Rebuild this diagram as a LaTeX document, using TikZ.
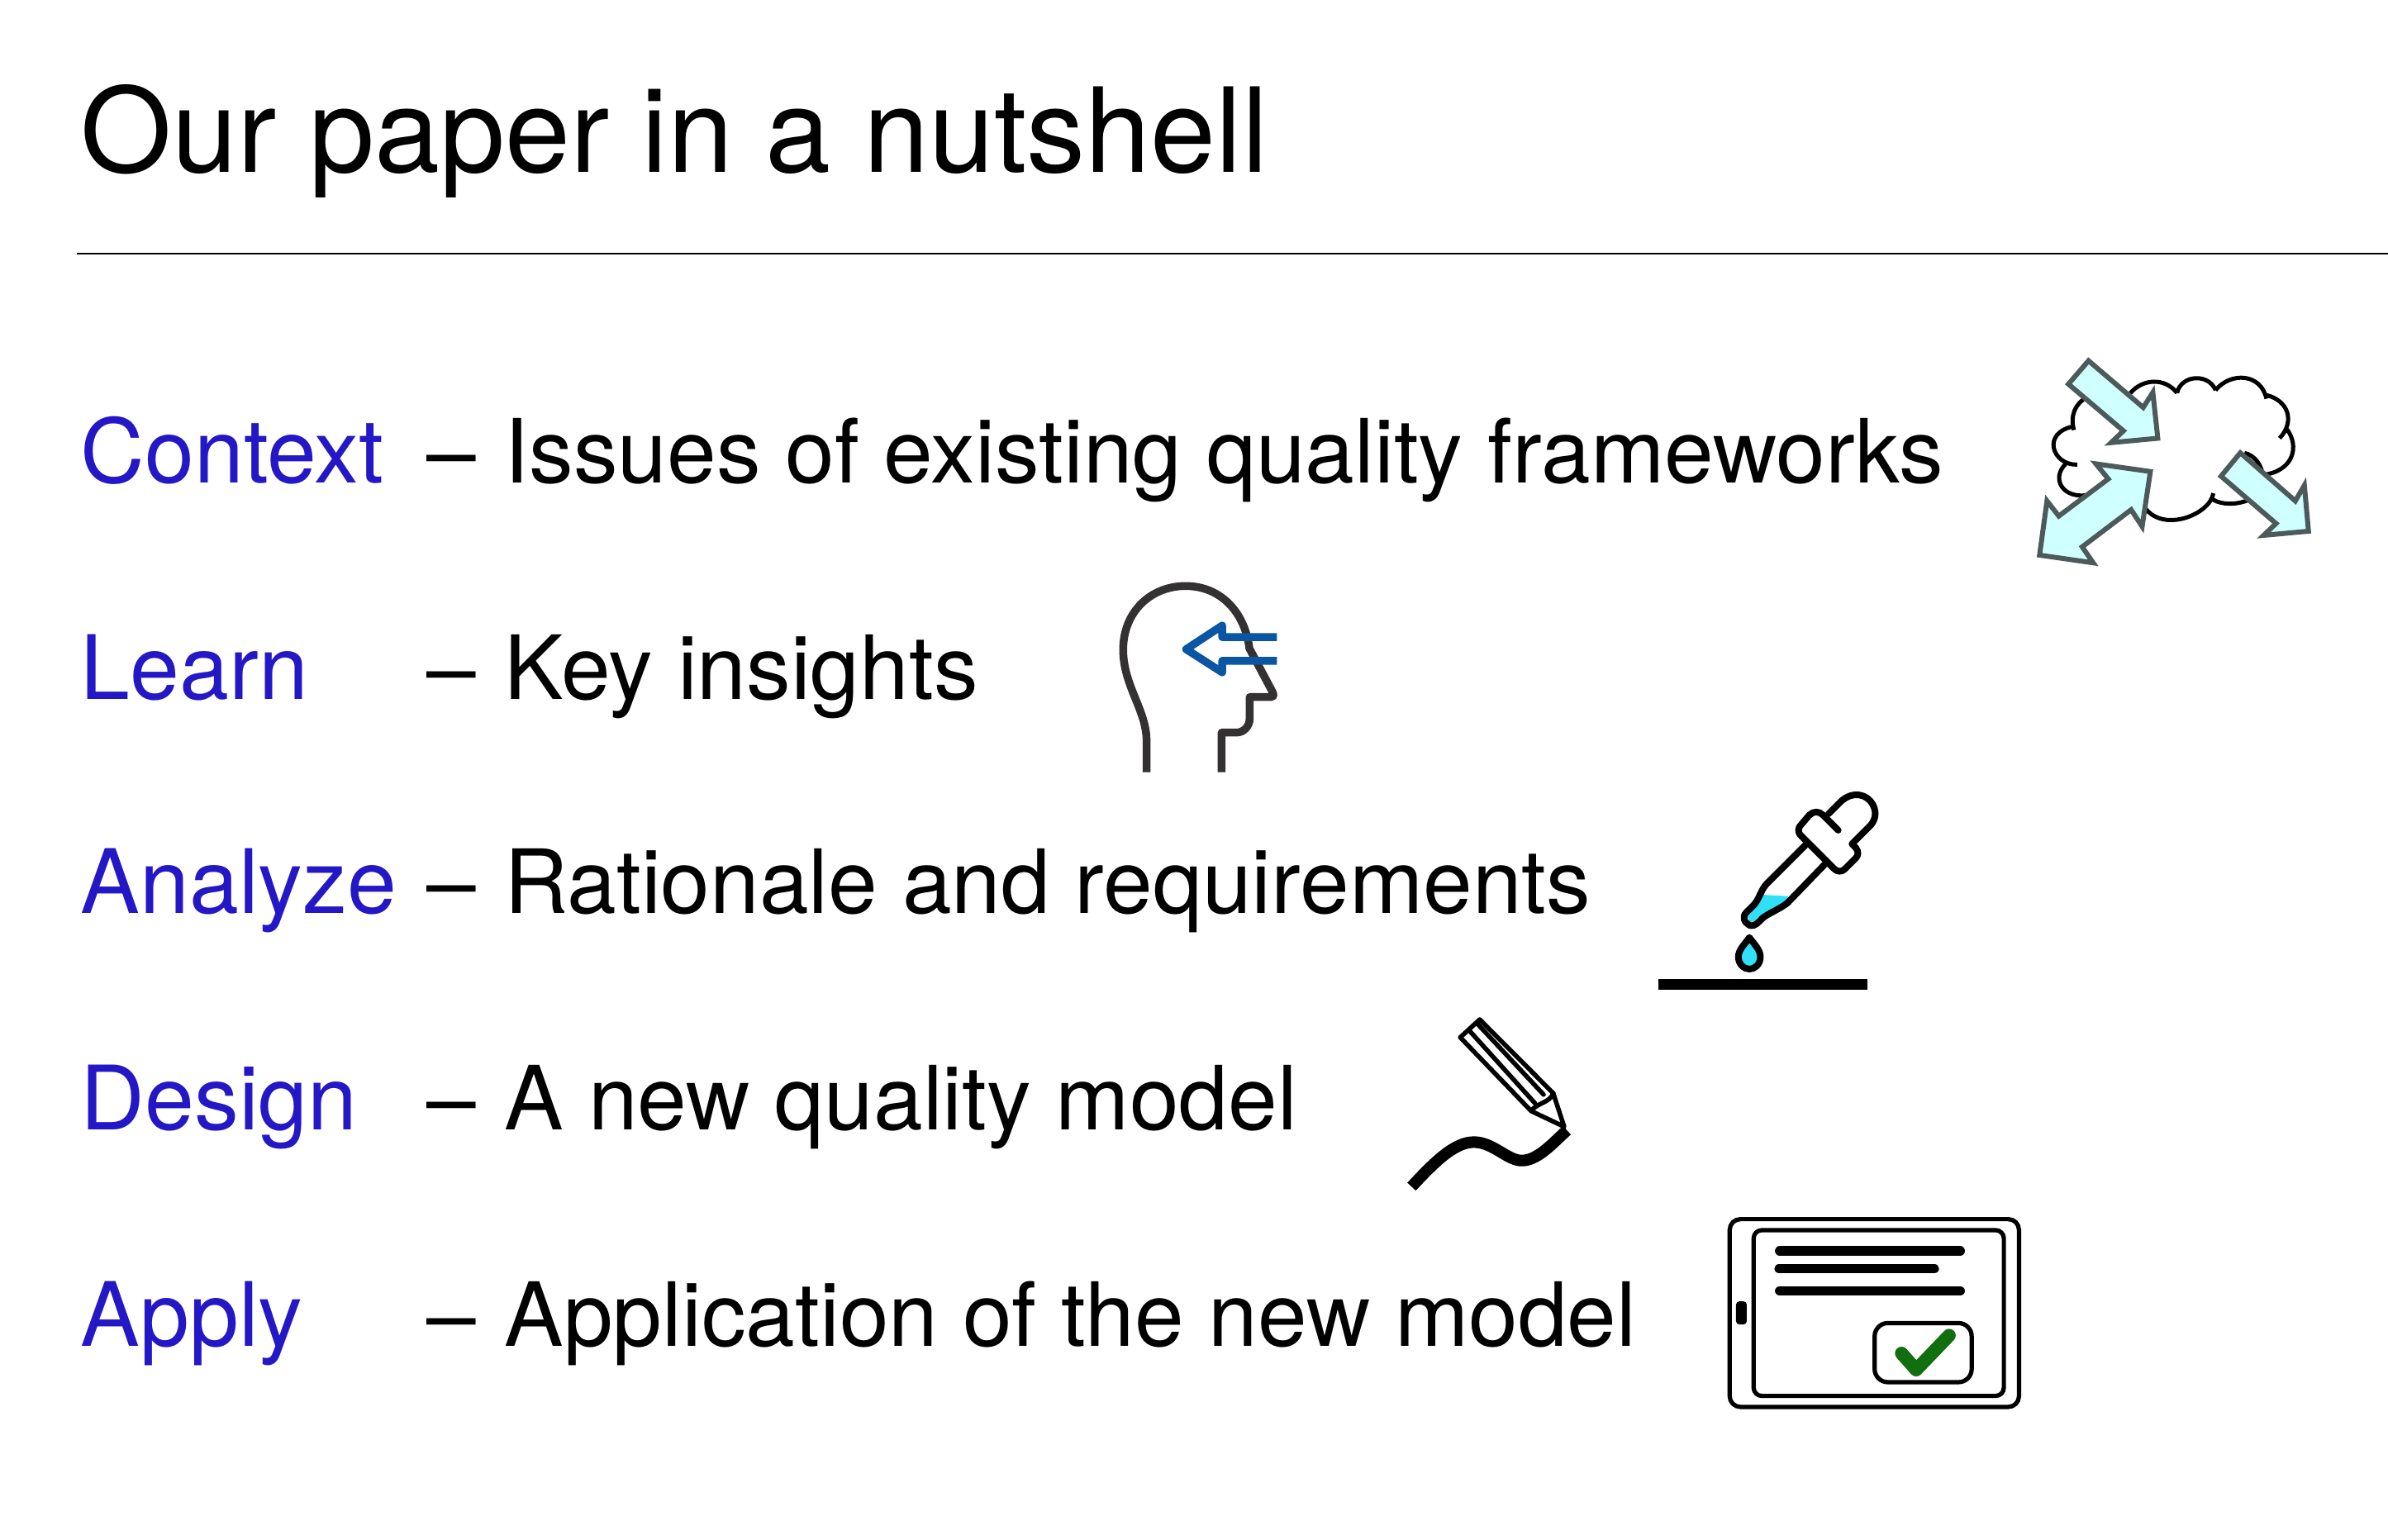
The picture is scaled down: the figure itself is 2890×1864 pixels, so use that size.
\documentclass[tikz,border=0pt]{standalone}
\usepackage{fontspec}
\setmainfont{TeX Gyre Heros}
\definecolor{stageblue}{HTML}{2418C6}
\definecolor{arrowfill}{HTML}{D0FFFF}
\definecolor{arrowline}{HTML}{4D5A5A}
\definecolor{headgray}{HTML}{333132}
\definecolor{headblue}{HTML}{0B55A5}
\definecolor{liquid}{HTML}{30E0F8}
\definecolor{checkgreen}{HTML}{116F0F}
\tikzset{
    titletext/.style={anchor=base west, inner sep=0pt, font=\fontsize{40.4}{48}\selectfont},
    stagetext/.style={anchor=base west, inner sep=0pt, text=stageblue, font=\fontsize{30.6}{36}\selectfont},
    topictext/.style={anchor=base west, inner sep=0pt, font=\fontsize{30.5}{36}\selectfont},
    cloudline/.style={draw=black, line width=.05cm},
    cloudarrow/.style={draw=arrowline, fill=arrowfill, line width=.06cm, line join=miter},
    iconline/.style={draw=black, line width=.055cm, line join=round, line cap=round},
    tabletline/.style={draw=black, line width=.052cm, rounded corners=.13cm},
    textbar/.style={draw=black, line width=.115cm, line cap=round}
}
\begin{document}
\begin{tikzpicture}[x=0.01cm,y=-0.01cm]
    \useasboundingbox (0,0) rectangle (2890,1864);
    \node[titletext] (title) at (97,209) {Our paper in a nutshell};
    \draw[line width=.026cm] (93,307) -- (2890,307);

    \foreach \stage/\topic/\ypos in {
        Context/Issues of existing quality frameworks/584,
        Learn/Key insights/846,
        Analyze/Rationale and requirements/1105,
        Design/A new quality model/1367,
        Apply/Application of the new model/1629}
    {
        \node[stagetext] (\stage) at (97,\ypos) {\stage};
        \node[topictext] (topic\stage) at (516,\ypos) {–\hspace{9.8pt}\topic};
    }

    % cloud
    \begin{scope}[shift={(2440,410)},x=0.003333cm,y=-0.003333cm]
        \path[cloudline]
            (210,332) .. controls (195,280) and (215,235) .. (258,212)
            (415,198) .. controls (460,145) and (540,140) .. (585,197)
            (585,197) .. controls (600,130) and (700,125) .. (725,187)
            (725,187) .. controls (780,120) and (890,125) .. (910,218)
            (910,205) .. controls (990,225) and (1015,300) .. (958,362)
            (985,330) .. controls (1030,390) and (1010,480) .. (900,495)
            (830,415) .. controls (865,425) and (885,450) .. (895,485)
            (850,585) .. controls (800,605) and (750,605) .. (715,585)
            (717,562) .. controls (705,640) and (530,710) .. (465,610)
            (222,458) .. controls (130,460) and (90,340) .. (212,318)
            (180,455) .. controls (125,510) and (170,585) .. (265,568);
        \draw[cloudarrow] (263,80) -- (190,165) -- (390,335) -- (345,378) -- (515,362)
            -- (497,195) -- (462,250) -- cycle;
        \draw[cloudarrow] (290,455) -- (488,483) -- (458,683) -- (418,622) -- (240,757)
            -- (280,815) -- (85,787) -- (112,590) -- (155,645) -- (335,510) -- cycle;
        \draw[cloudarrow] (815,415) -- (745,500) -- (945,672) -- (900,715) -- (1063,700)
            -- (1048,533) -- (1015,590) -- cycle;
    \end{scope}

    % head
    \begin{scope}[shift={(1320,680)},x=0.003333cm,y=-0.003333cm]
        \draw[headgray, line width=.095cm, line join=round]
            (203,765) -- (203,650) .. controls (203,540) and (118,450) .. (118,320)
            .. controls (118,180) and (220,88) .. (345,88) .. controls (470,88) and (560,180) .. (577,315)
            -- (662,475) .. controls (668,488) and (662,492) .. (655,492) -- (578,492) -- (578,570)
            .. controls (578,600) and (555,621) .. (530,621) -- (476,621) -- (476,765);
        \draw[headblue, line width=.095cm, line join=round]
            (677,274) -- (478,274) -- (478,232) -- (347,318) -- (478,402) -- (478,360) -- (677,360);
    \end{scope}

    % dropper
    \begin{scope}[shift={(1980,940)},x=0.003333cm,y=-0.003333cm]
        \fill[black] (80,736) rectangle (842,775);
        \fill[liquid] (462,430) -- (555,435) -- (540,455) .. controls (500,485) and (470,490) .. (430,525)
            -- (415,530) -- (405,510) -- (430,480) -- cycle;
        \path[iconline, line width=.08cm]
            (700,135) -- (745,90) .. controls (790,50) and (840,65) .. (860,100)
            .. controls (880,135) and (865,165) .. (850,180) -- (785,245) -- (800,260)
            .. controls (810,275) and (808,285) .. (800,295) -- (760,335) .. controls (745,350) and (730,345) .. (720,335)
            -- (600,215) .. controls (585,200) and (590,185) .. (600,175) -- (630,140)
            .. controls (645,125) and (665,125) .. (680,140) -- (735,195);
        \path[iconline, line width=.08cm]
            (615,250) -- (475,390) .. controls (455,410) and (450,440) .. (430,465) -- (400,495)
            .. controls (385,510) and (395,530) .. (405,535) .. controls (420,550) and (435,540) .. (450,525)
            .. controls (470,500) and (510,490) .. (550,460) -- (690,315);
        \path[iconline, line width=.08cm, fill=liquid]
            (412,585) .. controls (395,610) and (372,630) .. (372,655) .. controls (372,685) and (395,700) .. (412,700)
            .. controls (430,700) and (452,685) .. (452,655) .. controls (452,630) and (430,610) .. (412,585) -- cycle;
    \end{scope}

    % pencil
    \begin{scope}[shift={(1680,1210)},x=0.003333cm,y=-0.003333cm]
        \path[iconline] (333,72) -- (262,137) -- (520,405) -- (640,462) -- (600,340) -- cycle;
        \path[iconline] (293,110) -- (535,378);
        \path[iconline] (322,85) -- (565,345);
        \path[iconline] (520,405) .. controls (540,375) and (590,375) .. (600,340);
        \draw[black, line width=.14cm]
            (85,680) .. controls (160,600) and (240,515) .. (315,518)
            .. controls (380,520) and (430,580) .. (480,585) .. controls (540,590) and (600,520) .. (650,475);
    \end{scope}

    % tablet
    \begin{scope}[shift={(2070,1450)},x=0.003333cm,y=-0.003333cm]
        \path[tabletline] (70,77) rectangle (1122,760);
        \path[tabletline, rounded corners=.1cm] (157,117) rectangle (1067,720);
        \path[textbar] (252,193) -- (908,193);
        \path[textbar] (250,257) -- (814,257);
        \path[textbar] (252,338) -- (908,338);
        \fill[black, rounded corners=.04cm] (93,376) rectangle (132,460);
        \path[tabletline, rounded corners=.16cm] (597,455) rectangle (950,670);
        \draw[checkgreen, line width=.16cm, line cap=round, line join=round]
            (695,565) -- (748,625) -- (868,500);
    \end{scope}
\end{tikzpicture}
\end{document}
